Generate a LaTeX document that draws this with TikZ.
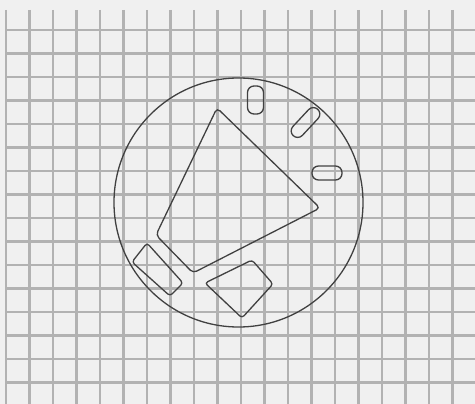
\documentclass[tikz,border=0pt]{standalone}
\usepackage{tikz}
\definecolor{paper}{RGB}{240,240,240}
\definecolor{gridline}{RGB}{178,178,178}
\definecolor{pen}{RGB}{65,65,65}

\begin{document}
\begin{tikzpicture}[x=1pt,y=-1pt,
  gridrule/.style={draw=gridline,line width=2.4pt},
  pen/.style={draw=pen,line width=1.3pt},
  pill/.style={pen,rounded corners=6.5pt}]
\fill[paper] (0,0) rectangle (475,404);
\useasboundingbox (0,0) rectangle (475,404);
% squared paper
\foreach \i in {0,...,19}
  \draw[gridrule] ({6+23.5*\i},10) -- ({6+23.5*\i},404);
\foreach \j in {0,...,15}
  \draw[gridrule] (6,{30+23.5*\j}) -- (475,{30+23.5*\j});
% outline
\draw[pen] (238.5,202.5) circle[radius=124.5];
\draw[pen,rounded corners=4pt] (217,108) -- (320,208) -- (193,273) -- (156,235) -- cycle;
\draw[pen,rounded corners=3pt] (147,243) -- (183,283) -- (170,296) -- (132,262) -- cycle;
\draw[pen,rounded corners=3pt] (205,283) -- (252,260) -- (273,284) -- (242,318) -- cycle;
% slots
\draw[pill,shift={(255.5,100)},rotate=90] (-14,-8) rectangle (14,8);
\draw[pill,shift={(305.5,122.5)},rotate=47] (-18,-6.5) rectangle (18,6.5);
\draw[pill,shift={(327,173)}] (-15,-7) rectangle (15,7);
\end{tikzpicture}
\end{document}
